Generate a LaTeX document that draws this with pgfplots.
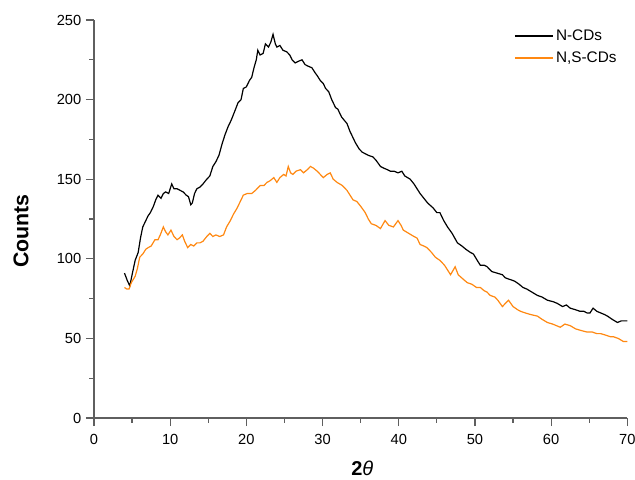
\documentclass[border=0pt]{standalone}
\usepackage{fontspec}
\setmainfont{Liberation Sans}
\usepackage{pgfplots}
\pgfplotsset{compat=1.18}

\definecolor{axisgray}{RGB}{95,95,95}
\definecolor{nscd}{RGB}{255,136,17}

\begin{document}
\begin{tikzpicture}
\useasboundingbox (-70.5pt,-45.75pt) rectangle (405.75pt,313.5pt);
\begin{axis}[
  scale only axis,
  width=400pt, height=298.5pt,
  xmin=0, xmax=70, ymin=0, ymax=250,
  axis x line=bottom, axis y line=left,
  x axis line style={-}, y axis line style={-},
  axis line style={color=axisgray, line width=0.9pt},
  xtick={0,10,...,70}, ytick={0,50,...,250},
  minor x tick num=1, minor y tick num=1,
  tick align=outside,
  major tick length=6pt, minor tick length=3.5pt,
  tick style={color=axisgray, line width=0.9pt},
  /pgf/number format/assume math mode=true,
  tick label style={font=\fontsize{11}{13}\selectfont},
  xticklabel style={yshift=-3pt},
  xlabel={\textbf{2}\textit{θ}},
  ylabel={\textbf{Counts}},
  xlabel style={font=\fontsize{15}{17}\selectfont, at={(axis description cs:0.503,-0.126)}, anchor=center},
  ylabel style={font=\fontsize{16}{18}\selectfont, at={(axis description cs:-0.137,0.47)}, anchor=center},
  legend style={draw=none, fill=none, at={(axis description cs:0.78,0.99)}, anchor=north west,
    font=\fontsize{11.5}{13}\selectfont, row sep=3pt},
  legend cell align=left,
  legend image code/.code={\draw[#1] (0cm,0cm) -- (1cm,0cm);},
]
\addplot[black, line width=0.9pt] coordinates {
(4.0,91) (4.4,86) (4.7,83) (5.0,90) (5.4,99) (5.8,104) (6.1,113) (6.4,120) (6.8,124) (7.1,127)
(7.4,129) (7.8,133) (8.1,137) (8.4,140) (8.8,138) (9.1,141) (9.4,142) (9.8,141) (10.2,147) (10.5,144)
(10.9,144) (11.3,143) (11.7,142) (12.1,140) (12.4,139) (12.7,134) (12.9,135) (13.2,141) (13.5,144) (13.9,145)
(14.3,147) (14.8,150) (15.2,152) (15.6,158) (16.0,161) (16.4,165) (16.8,172) (17.2,178) (17.6,183) (18.0,187)
(18.5,193) (18.9,198) (19.3,200) (19.6,207) (20.0,208) (20.4,212) (20.7,214) (21.0,220) (21.3,225) (21.5,231)
(21.8,228) (22.2,229) (22.5,235) (22.9,233) (23.2,236) (23.5,241) (23.8,235) (24.0,233) (24.4,234) (24.8,231)
(25.3,230) (25.7,228) (26.0,225) (26.4,223) (26.8,224) (27.3,225) (27.7,222) (28.1,221) (28.6,220) (29.0,217)
(29.3,215) (29.7,212) (30.1,210) (30.4,207) (30.8,205) (31.2,200) (31.7,195) (32.0,194) (32.5,189) (33.2,185)
(33.6,180) (34.0,176) (34.3,173) (34.8,169) (35.2,167) (35.6,166) (36.0,165) (36.6,164) (37.0,162) (37.6,158)
(38.0,157) (38.5,156) (38.9,155) (39.4,155) (39.9,154) (40.4,155) (40.8,152) (41.5,150) (42.0,147) (42.4,144)
(42.8,141) (43.3,138) (43.8,135) (44.5,132) (45.0,129) (45.4,129) (45.9,124) (46.4,120) (47.0,116) (47.7,110)
(48.3,108) (48.8,106) (49.4,104) (49.8,103) (50.3,99) (50.7,96) (51.2,96) (51.6,95) (52.2,92) (52.9,91)
(53.6,90) (54.0,88) (54.6,87) (55.2,86) (55.8,84) (56.3,82) (56.8,81) (57.5,79) (58.2,77) (58.8,76)
(59.5,74) (60.3,73) (60.8,72) (61.5,70) (62.0,71) (62.5,69) (63.2,68) (63.8,67) (64.3,67) (64.7,66)
(65.1,66) (65.5,69) (66.0,67) (66.5,66) (67.0,65) (67.4,64) (68.0,62) (68.7,60) (69.2,61) (69.6,61) (70.0,61)
};
\addlegendentry{N-CDs}
\addplot[nscd, line width=0.9pt] coordinates {
(4.0,82) (4.3,81) (4.6,81) (4.9,85) (5.4,89) (5.7,94) (6.0,101) (6.4,103) (6.8,106) (7.1,107)
(7.5,108) (8.0,112) (8.4,112) (8.7,115) (9.1,120) (9.4,117) (9.7,115) (10.1,118) (10.5,114) (10.9,112)
(11.2,113) (11.6,115) (11.9,111) (12.3,107) (12.7,109) (13.1,108) (13.5,110) (13.9,110) (14.3,111) (14.8,114)
(15.2,116) (15.6,114) (16.0,115) (16.5,114) (17.0,115) (17.4,120) (17.9,124) (18.3,128) (18.8,132) (19.2,136)
(19.6,140) (20.1,141) (20.7,141) (21.2,143) (21.8,146) (22.3,146) (22.7,148) (23.1,149) (23.6,151) (24.0,148)
(24.4,151) (24.9,153) (25.2,152) (25.5,158) (25.8,154) (26.1,153) (26.5,155) (27.1,156) (27.5,154) (28.0,156)
(28.4,158) (28.8,157) (29.3,155) (29.7,153) (30.1,151) (30.6,153) (31.0,154) (31.4,150) (31.9,148) (32.6,146)
(33.2,143) (33.6,140) (34.0,137) (34.5,136) (35.0,133) (35.6,129) (36.0,125) (36.4,122) (37.0,121) (37.6,119)
(38.2,124) (38.7,121) (39.3,120) (39.9,124) (40.3,121) (40.6,118) (41.3,116) (42.0,114) (42.4,113) (42.8,109)
(43.3,108) (43.7,107) (44.3,104) (44.8,101) (45.4,99) (46.0,96) (46.4,93) (46.8,90) (47.4,95) (47.8,90)
(48.5,87) (49.0,85) (49.6,84) (50.2,82) (50.7,82) (51.2,80) (51.6,79) (52.0,77) (52.6,76) (53.0,74)
(53.6,70) (54.0,72) (54.4,74) (55.0,70) (55.6,68) (56.0,67) (56.6,66) (57.3,65) (58.2,64) (58.8,62)
(59.5,60) (60.2,59) (60.7,58) (61.2,57) (61.8,59) (62.5,58) (63.2,56) (63.9,55) (64.7,54) (65.4,54)
(66.0,53) (66.5,53) (67.2,52) (67.8,51) (68.2,51) (68.8,50) (69.5,48) (70.0,48)
};
\addlegendentry{N,S-CDs}
\end{axis}
\end{tikzpicture}
\end{document}
